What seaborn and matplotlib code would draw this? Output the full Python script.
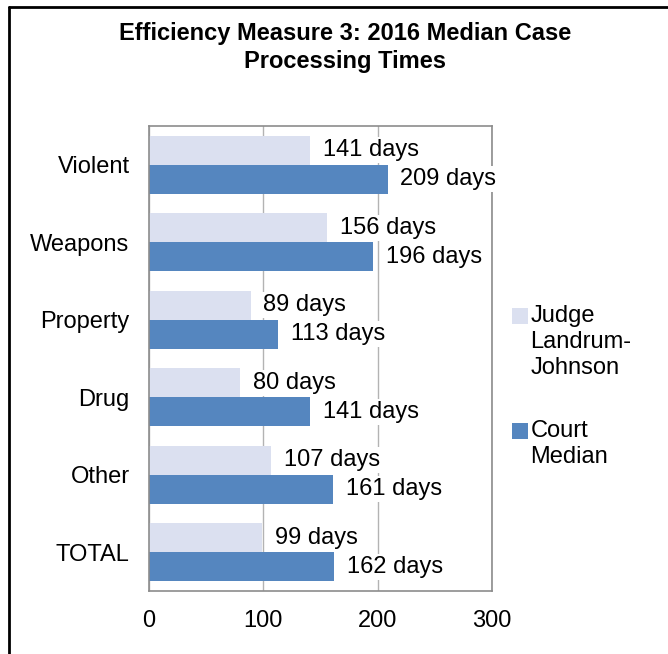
import pandas as pd
import matplotlib
matplotlib.use("Agg")
import matplotlib.pyplot as plt
import seaborn as sns
from matplotlib.lines import Line2D
from matplotlib.patches import Rectangle
from matplotlib.legend_handler import HandlerPatch

# --- data ---
categories = ["Violent", "Weapons", "Property", "Drug", "Other", "TOTAL"]
judge_days = [141, 156, 89, 80, 107, 99]
court_days = [209, 196, 113, 141, 161, 162]
series_names = ["Judge\nLandrum-\nJohnson", "Court\nMedian"]
x_ticks = [0, 100, 200, 300]

df = pd.DataFrame({
    "Category": categories * 2,
    "Days": judge_days + court_days,
    "Series": [series_names[0]] * len(categories) + [series_names[1]] * len(categories),
})

sns.set_style("white")
plt.rcParams['font.family'] = ['Liberation Sans', 'DejaVu Sans']
plt.rcParams['text.color'] = 'black'
plt.rcParams['xtick.labelcolor'] = 'black'
plt.rcParams['ytick.labelcolor'] = 'black'

FS = 17
LINESP = 1.22

fig = plt.figure(figsize=(6.68, 6.54), dpi=100)
ax = fig.add_axes([0.223, 0.0963, 0.5135, 0.711])

light = "#dbe0f0"
dark = "#5586bf"
sns.barplot(data=df, x="Days", y="Category", hue="Series", orient="h",
            palette=[light, dark], width=0.75, saturation=1, ax=ax,
            edgecolor="none")

# --- axes styling (Excel-like) ---
ax.set_xlim(0, 300)
ax.set_xticks(x_ticks)
ax.set_xticklabels([str(t) for t in x_ticks], fontsize=FS)
ax.set_xlabel("")
ax.set_ylabel("")
ax.tick_params(axis="y", which="major", length=0, labelsize=FS, pad=14)
ax.set_yticks([i + 0.5 for i in range(len(categories) - 1)] + [-0.5, len(categories) - 0.5], minor=True)
ax.tick_params(axis="y", which="minor", length=6, color="#8c8c8c", direction="out")
ax.tick_params(axis="x", length=6, color="#8c8c8c", direction="out", pad=8)
ax.set_ylim(len(categories) - 0.5, -0.5)
ax.grid(axis="x", color="#b3b3b3", linewidth=1)
ax.set_axisbelow(True)
for sp in ax.spines.values():
    sp.set_color("#8c8c8c")
    sp.set_linewidth(1.2)

# --- value labels ---
for cont, vals in zip(ax.containers, [judge_days, court_days]):
    ax.bar_label(cont, labels=[f"{v} days" for v in vals], padding=9, fontsize=FS,
                 bbox=dict(facecolor="white", edgecolor="none", pad=1.5), clip_on=False)

# --- legend: square marker aligned with the first line of each label ---
handles, labels = ax.get_legend_handles_labels()
n_lines = {id(h): lab.count("\n") + 1 for h, lab in zip(handles, labels)}
line_step = 19.0  # points between baselines


def top_square(legend, orig_handle, xdescent, ydescent, width, height, fontsize):
    shift = (n_lines[id(orig_handle)] - 1) / 2 * line_step
    return Rectangle((-xdescent, -ydescent + shift), width, height)


leg = ax.legend(handles, labels, loc="upper left", bbox_to_anchor=(0.735, 0.566),
                bbox_transform=fig.transFigure, frameon=False, fontsize=FS,
                handlelength=0.65, handleheight=0.65, handletextpad=0.12, labelspacing=1.75,
                handler_map={h: HandlerPatch(patch_func=top_square) for h in handles})
for t in leg.get_texts():
    t.set_linespacing(LINESP)

# --- title ---
fig.text(0.517, 0.966, "Efficiency Measure 3: 2016 Median Case\nProcessing Times",
         ha="center", va="top", fontsize=17, fontweight="bold", linespacing=1.25)

# --- chart frame ---
fig.add_artist(Line2D([0.0135, 0.0135], [0, 0.99], transform=fig.transFigure, color="black", linewidth=2))
fig.add_artist(Line2D([0.0135, 1.0], [0.99, 0.99], transform=fig.transFigure, color="black", linewidth=2))

fig.savefig("out.png", dpi=100)
